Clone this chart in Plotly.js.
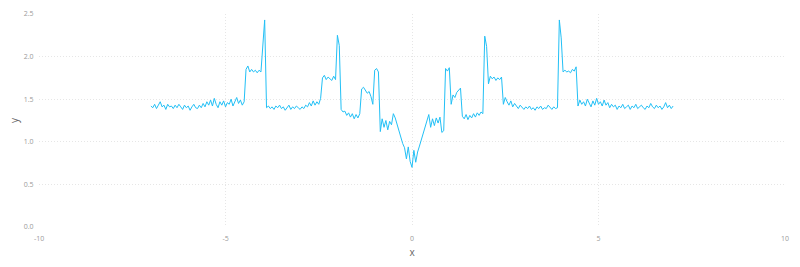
<!DOCTYPE html>
<html>
<head>
<meta charset="utf-8">
<script src="https://cdn.plot.ly/plotly-3.0.1.min.js"></script>
<style>html,body{margin:0;padding:0;background:#fff;}#chart{width:800px;height:267px;}</style>
</head>
<body>
<div id="chart"></div>
<script>
// x grid: starts at -7, step 0.05 (281 samples up to 7)
const xStart = -7;
const xStep = 0.05;

// y values, left to right
const ySeries = [
  1.42,1.40,1.44,1.39,1.43,1.47,1.41,1.43,1.38,1.44,
  1.41,1.42,1.39,1.43,1.40,1.44,1.41,1.38,1.43,1.40,
  1.42,1.37,1.41,1.44,1.40,1.39,1.43,1.40,1.45,1.41,
  1.47,1.43,1.49,1.42,1.51,1.44,1.40,1.47,1.43,1.48,
  1.41,1.46,1.44,1.50,1.42,1.47,1.52,1.45,1.49,1.43,
  1.47,1.85,1.89,1.82,1.85,1.82,1.84,1.81,1.84,1.82,
  2.20,2.43,1.40,1.42,1.39,1.41,1.38,1.42,1.40,1.43,
  1.39,1.41,1.37,1.40,1.43,1.38,1.41,1.39,1.42,1.40,
  1.38,1.41,1.39,1.43,1.41,1.46,1.42,1.48,1.43,1.47,
  1.44,1.51,1.75,1.78,1.73,1.76,1.74,1.72,1.77,1.73,
  2.25,2.13,1.38,1.35,1.36,1.31,1.34,1.29,1.33,1.27,
  1.32,1.28,1.33,1.62,1.64,1.61,1.57,1.59,1.53,1.44,
  1.84,1.86,1.82,1.12,1.27,1.17,1.25,1.14,1.24,1.20,
  1.33,1.28,1.20,1.12,1.05,0.98,0.93,0.80,0.94,0.77,
  0.70,0.90,0.76,0.88,0.95,1.03,1.10,1.18,1.25,1.32,
  1.17,1.27,1.19,1.28,1.22,1.29,1.11,1.13,1.86,1.83,
  1.87,1.44,1.55,1.52,1.58,1.60,1.63,1.30,1.27,1.32,
  1.26,1.31,1.28,1.33,1.29,1.34,1.31,1.35,1.33,2.24,
  2.12,1.68,1.77,1.74,1.76,1.72,1.75,1.73,1.76,1.44,
  1.52,1.47,1.43,1.48,1.41,1.45,1.42,1.39,1.43,1.40,
  1.38,1.41,1.39,1.42,1.38,1.40,1.37,1.41,1.39,1.42,
  1.38,1.40,1.39,1.43,1.40,1.38,1.41,1.39,1.40,2.43,
  2.22,1.82,1.84,1.82,1.83,1.81,1.85,1.83,1.88,1.42,
  1.49,1.44,1.47,1.42,1.50,1.45,1.41,1.48,1.43,1.51,
  1.44,1.47,1.42,1.49,1.43,1.46,1.40,1.44,1.41,1.43,
  1.38,1.42,1.40,1.44,1.39,1.41,1.43,1.38,1.42,1.40,
  1.44,1.39,1.41,1.43,1.40,1.38,1.42,1.40,1.45,1.41,
  1.39,1.43,1.40,1.42,1.38,1.41,1.46,1.40,1.43,1.39,
  1.42
];

const xTickVals = [-10, -5, 0, 5, 10];
const yTickVals = [0, 0.5, 1, 1.5, 2, 2.5];

const trace = {
  type: 'scatter',
  mode: 'lines',
  x0: xStart,
  dx: xStep,
  y: ySeries,
  line: {color: '#22c0f6', width: 1},
  hoverinfo: 'none'
};

const axisCommon = {
  showgrid: true,
  gridcolor: '#e6e6e6',
  griddash: '1px,2px',
  gridwidth: 1,
  zeroline: false,
  showline: false,
  ticks: 'outside',
  tickcolor: 'rgba(0,0,0,0)',
  tickfont: {family: 'Open Sans, sans-serif', size: 7, color: '#9a9a9a'},
};

const layout = {
  width: 800,
  height: 267,
  margin: {l: 39, r: 15, t: 14, b: 40},
  paper_bgcolor: '#fff',
  plot_bgcolor: '#fff',
  showlegend: false,
  xaxis: Object.assign({}, axisCommon, {
    range: [-10, 10],
    ticklen: 5,
    tickvals: xTickVals,
    ticktext: xTickVals.map(String),
    title: {text: 'x', font: {family: 'Open Sans, sans-serif', size: 10, color: '#666'}, standoff: 6}
  }),
  yaxis: Object.assign({}, axisCommon, {
    range: [0, 2.5],
    ticklen: 3,
    tickvals: yTickVals,
    tickformat: '.1f',
    title: {text: 'y', font: {family: 'Open Sans, sans-serif', size: 10, color: '#666'}, standoff: 3}
  })
};

Plotly.newPlot('chart', [trace], layout, {displayModeBar: false, staticPlot: true});
</script>
</body>
</html>
